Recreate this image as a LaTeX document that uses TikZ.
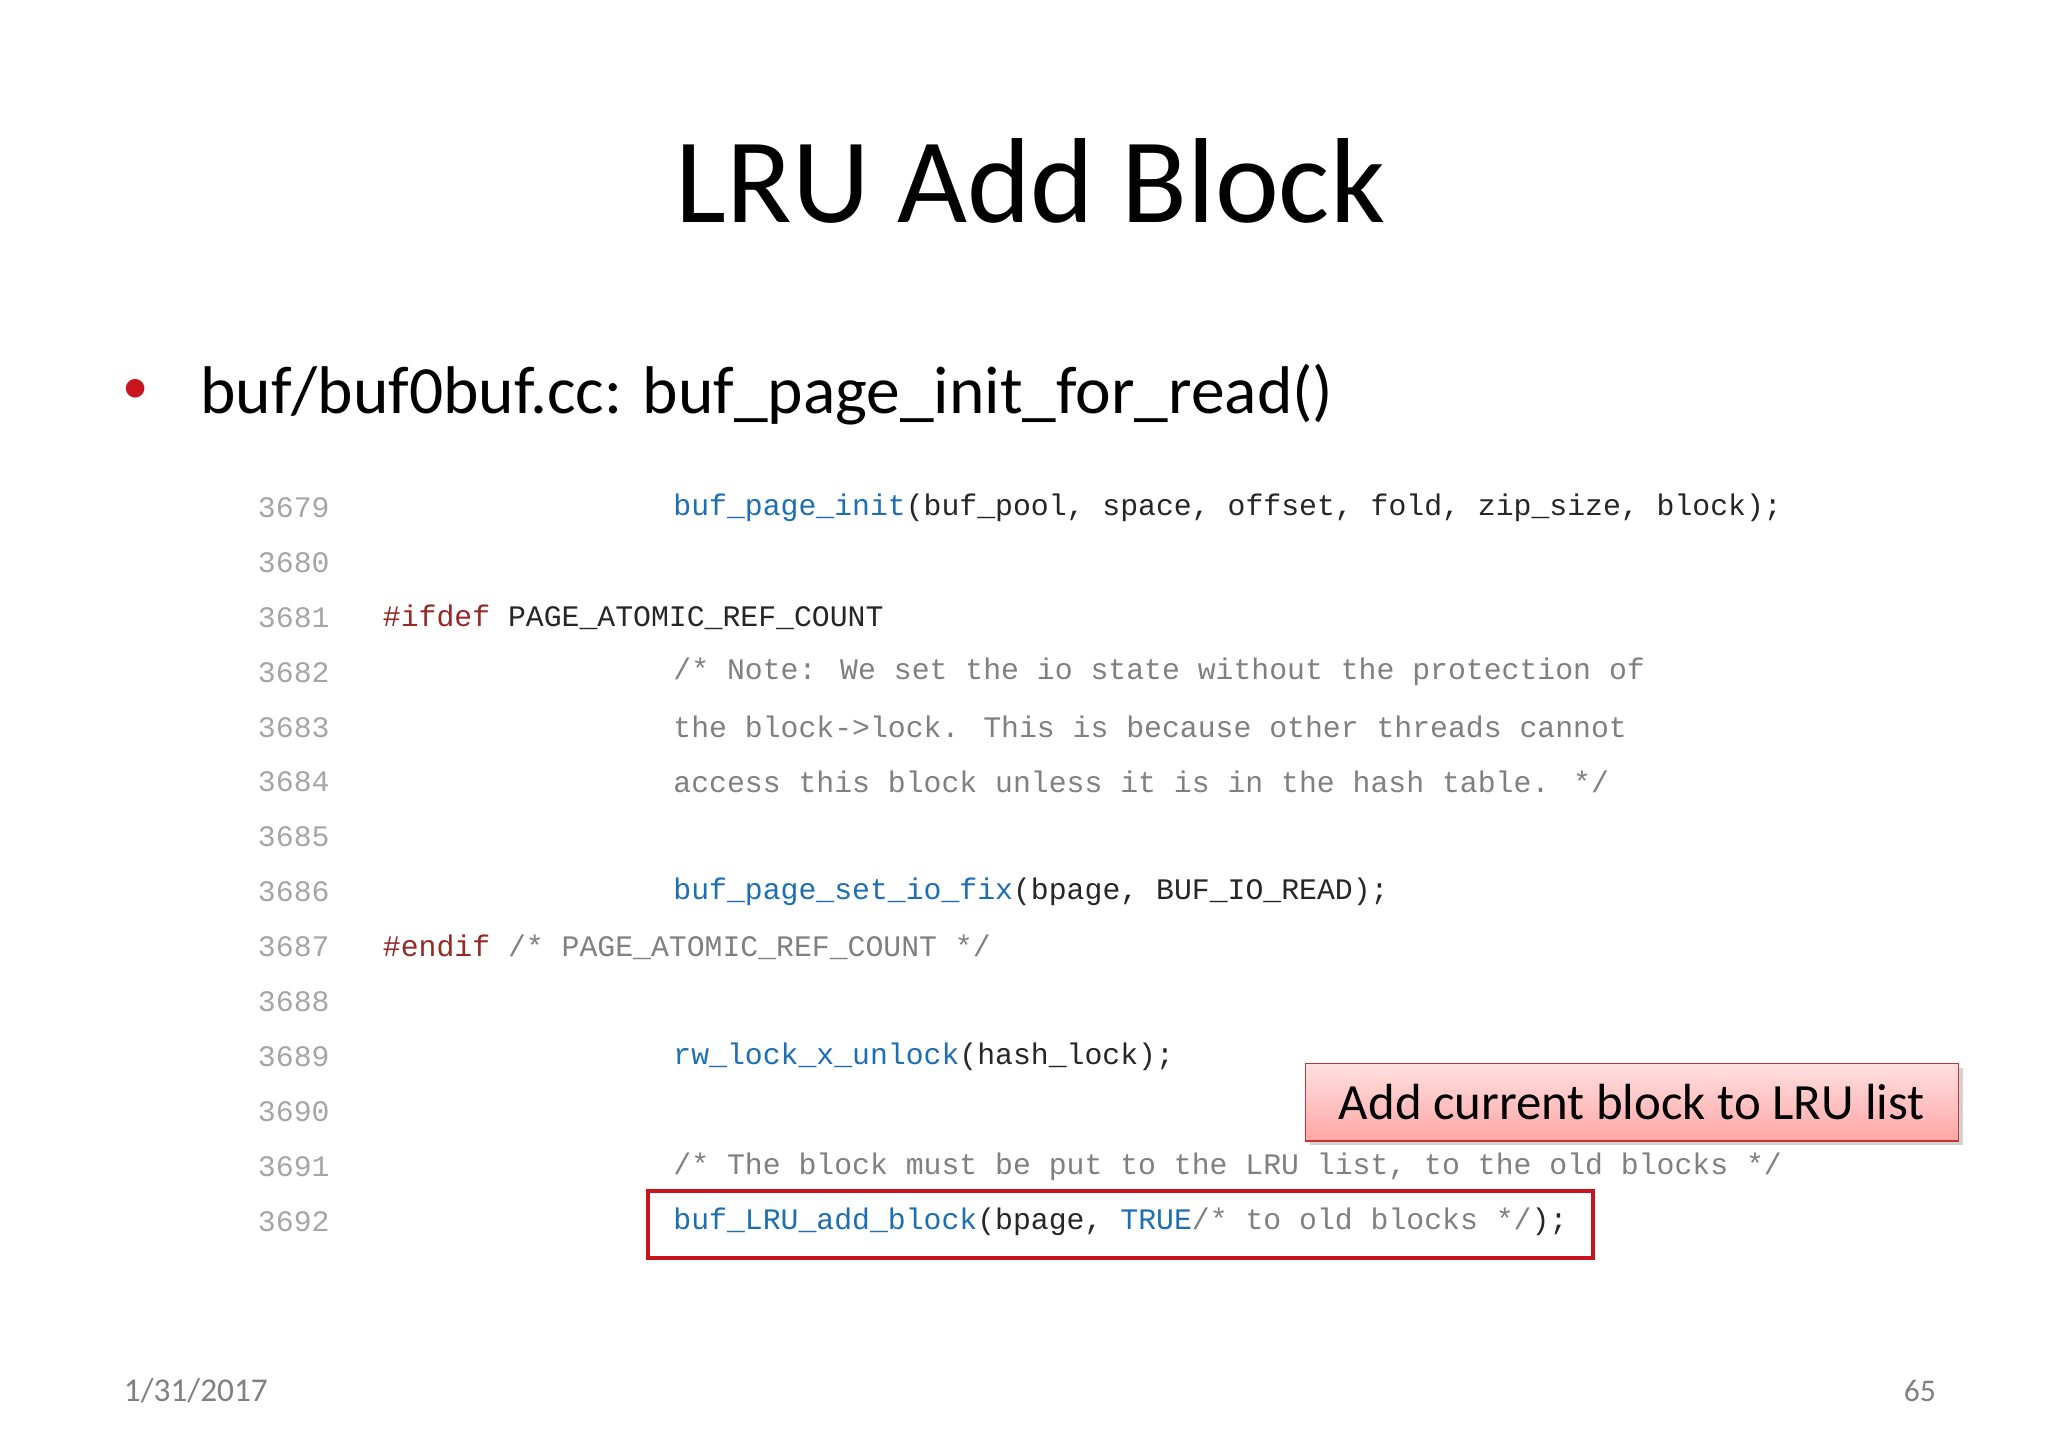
\documentclass[tikz,border=0pt]{standalone}
\usepackage{fontspec}
\setmainfont{Carlito}
\newfontfamily\codefont{Liberation Mono}
\usetikzlibrary{shadows}
\definecolor{fnblue}{RGB}{30,110,180}
\definecolor{cmgray}{RGB}{128,128,128}
\definecolor{ppred}{RGB}{150,40,40}
\definecolor{lngray}{RGB}{165,165,165}
\definecolor{boxred}{RGB}{200,20,30}
\newcommand{\fn}[1]{\textcolor{fnblue}{#1}}
\newcommand{\cm}[1]{\textcolor{cmgray}{#1}}
\newcommand{\pp}[1]{\textcolor{ppred}{#1}}
\begin{document}
\begin{tikzpicture}[x=0.75pt,y=-0.75pt,
  code/.style={anchor=west,inner sep=0pt,font=\codefont\fontsize{17}{18}\selectfont,text=black!85},
  lnum/.style={code,text=lngray}]
\useasboundingbox (0,0) rectangle (1558,1101.5);
\fill[white] (0,0) rectangle (1558,1101.5);
\node (title) at (784,138) {\fontsize{69}{80}\selectfont LRU Add Block};
\node[anchor=west,inner sep=0pt,text=boxred] (bul) at (93,298) {\fontsize{30}{34}\selectfont •};
\node[anchor=west,inner sep=0pt] (sub) at (152,300) {\fontsize{38.5}{44}\selectfont buf/buf0buf.cc: buf\_page\_init\_for\_read()};
\foreach \n [count=\i from 0] in {3679,3680,3681,3682,3683,3684,3685,3686,3687,3688,3689,3690,3691,3692}
  \node[lnum] (ln\n) at (196,386+41.8*\i) {\n};
\node[code] (c1) at (512,386) {\fn{buf\_page\_init}(buf\_pool, space, offset, fold, zip\_size, block);};
\node[code] (c3) at (291,469.6) {\pp{\#ifdef} PAGE\_ATOMIC\_REF\_COUNT};
\node[code] (c4) at (512,511.4) {\cm{/* Note: We set the io state without the protection of}};
\node[code] (c5) at (512,553.2) {\cm{the block->lock. This is because other threads cannot}};
\node[code] (c6) at (512,595) {\cm{access this block unless it is in the hash table. */}};
\node[code] (c8) at (512,678.6) {\fn{buf\_page\_set\_io\_fix}(bpage, BUF\_IO\_READ);};
\node[code] (c9) at (291,720.4) {\pp{\#endif} \cm{/* PAGE\_ATOMIC\_REF\_COUNT */}};
\node[code] (c11) at (512,804) {\fn{rw\_lock\_x\_unlock}(hash\_lock);};
\node[code] (c13) at (512,887.6) {\cm{/* The block must be put to the LRU list, to the old blocks */}};
\node[code] (c14) at (512,929.4) {\fn{buf\_LRU\_add\_block}(bpage, \fn{TRUE}\cm{/* to old blocks */});};
\draw[boxred,line width=2.2pt] (493,906) rectangle (1212,957);
\node[draw=red!70!black!80,line width=0.8pt,top color=red!12,bottom color=red!35,
  drop shadow={opacity=0.35},minimum width=497*0.75pt,minimum height=59*0.75pt,inner sep=0pt] (call) at (1241.5,838.5)
  {\fontsize{29}{34}\selectfont Add current block to LRU list};
\node[anchor=west,inner sep=0pt,text=gray] (date) at (94,1058) {\fontsize{19}{22}\selectfont 1/31/2017};
\node[anchor=east,inner sep=0pt,text=gray] (page) at (1473,1058) {\fontsize{18}{22}\selectfont 65};
\end{tikzpicture}
\end{document}
